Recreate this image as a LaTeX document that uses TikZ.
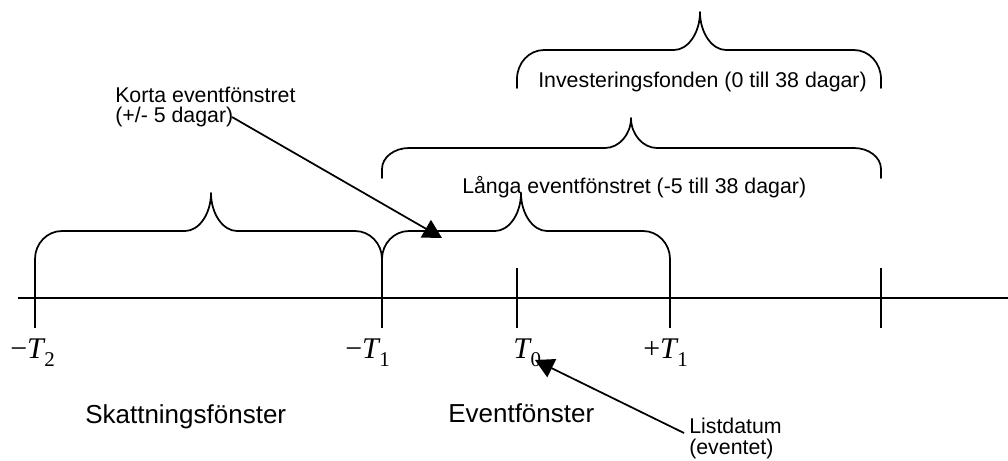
\documentclass[tikz,border=0pt]{standalone}
\usepackage{fontspec}
\setmainfont{Liberation Sans}
\newfontfamily\tms{Liberation Serif}
\usetikzlibrary{arrows.meta}
\newcommand{\mybrace}[6]{% x1,x2,xm,yb,yf,yt
 \draw[brc] (#1,#4) -- (#1,{#4-9}) .. controls (#1,{#4-9-0.55*(#4-9-#5)}) and ({#1+12},#5) .. ({#1+27},#5) -- ({#3-26},#5) .. controls ({#3-12},#5) and (#3,{#6+0.55*(#5-#6)}) .. (#3,#6) .. controls (#3,{#6+0.55*(#5-#6)}) and ({#3+12},#5) .. ({#3+26},#5) -- ({#2-27},#5) .. controls ({#2-12},#5) and (#2,{#4-9-0.55*(#4-9-#5)}) .. (#2,{#4-9}) -- (#2,#4);}
\newcommand{\tlab}[2]{{\tms\fontsize{22.5}{22.5}\selectfont #1\textit{T}\kern-0.04em\raisebox{-6pt}{\fontsize{15.75}{15.75}\selectfont #2}}}
\begin{document}
\begin{tikzpicture}[x=0.75pt,y=-0.75pt,
  brc/.style={line width=1.3pt, line cap=round, line join=round},
  axl/.style={line width=1.4pt},
  tck/.style={line width=1.4pt},
  small/.style={inner sep=0pt, anchor=base west, font=\fontsize{16}{16}\selectfont},
  big/.style={inner sep=0pt, anchor=base west, font=\fontsize{19.5}{19.5}\selectfont},
  mlab/.style={inner sep=0pt, anchor=base west},
  arr/.style={line width=1.3pt, -{Triangle[length=14pt,width=15pt]}}]
\useasboundingbox (0,0) rectangle (1008,461);
% axis
\draw[axl] (18,298) -- (1008,298);
% ticks
\draw[tck] (35,268) -- (35,328);
\draw[tck] (382,268) -- (382,328);
\draw[tck] (517,268) -- (517,328);
\draw[tck] (670,268) -- (670,328);
\draw[tck] (881,268) -- (881,328);
% braces
\mybrace{35}{382}{211}{268}{231}{193}
\mybrace{382}{670}{521}{268}{231}{193}
\mybrace{382}{881}{631}{178}{148}{118}
\mybrace{517}{881}{700}{88}{50}{12}
% texts
\node[small] (inv) at (538,87) {Investeringsfonden (0 till 38 dagar)};
\node[small] (lang) at (462,193) {Långa eventfönstret (-5 till 38 dagar)};
\node[small] (korta1) at (115,102) {Korta eventfönstret};
\node[small] (korta2) at (115,122) {(+/- 5 dagar)};
\node[big] (skatt) at (85,423) {Skattningsfönster};
\node[big] (event) at (448,422) {Eventfönster};
\node[small] (list1) at (689,433) {Listdatum};
\node[small] (list2) at (689,454) {(eventet)};
% math labels
\node[mlab] (mt2) at (10,358) {\tlab{−}{2}};
\node[mlab] (mt1) at (345,358) {\tlab{−}{1}};
\node[mlab] (t0) at (513,358) {\tlab{}{0}};
\node[mlab] (pt1) at (643,358) {\tlab{+}{1}};
% arrows
\coordinate (kstart) at (232,117);
\coordinate (kend) at (442,238);
\draw[arr] (kstart) -- (kend);
\coordinate (lstart) at (684,433);
\coordinate (lend) at (535,360);
\draw[arr] (lstart) -- (lend);
\end{tikzpicture}
\end{document}
